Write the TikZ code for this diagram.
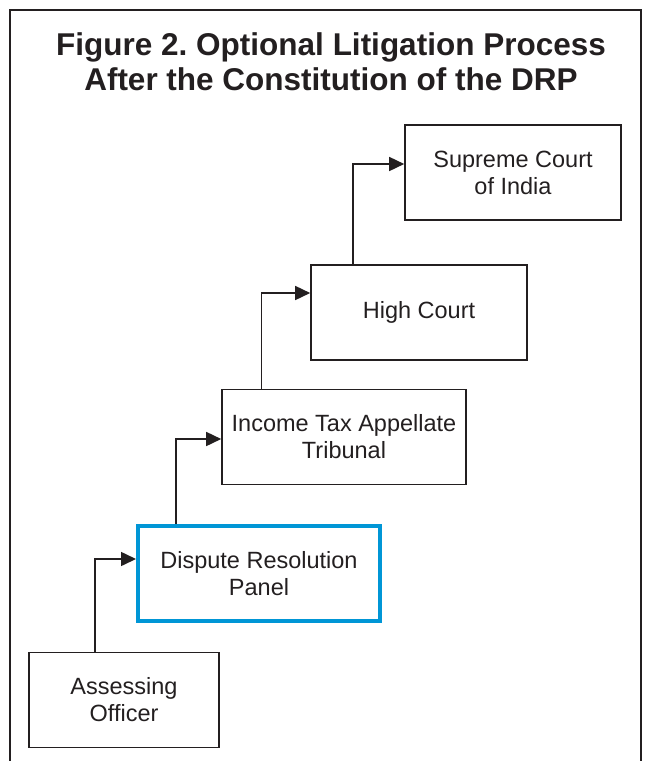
\documentclass[tikz,border=0pt]{standalone}
\usepackage{fontspec}
\setmainfont{Liberation Sans}
\usetikzlibrary{arrows.meta}
\definecolor{drpblue}{RGB}{0,150,214}
\definecolor{ink}{RGB}{35,31,32}
\tikzset{
  box/.style={draw=ink, line width=1.6pt, minimum width=#1, minimum height=95pt, inner sep=0pt, align=center, font=\fontsize{23.5}{27}\selectfont, text=ink},
  box/.default=190pt,
  conn/.style={draw=ink, line width=1.6pt, -{Triangle[length=15pt,width=14pt]}},
}
\begin{document}
\frenchspacing
\begin{tikzpicture}[x=1pt,y=-1pt]
\useasboundingbox (0,0) rectangle (651,761);
\draw[ink, line width=1.4pt] (10,761) -- (10,10) -- (641,10) -- (641,761);
\node[font=\fontsize{31.5}{35}\selectfont\bfseries, text=ink, align=center] (title) at (331,62)
  {Figure 2. Optional Litigation Process\\After the Constitution of the DRP};
\node[box=216pt] (sc) at (513,172.5) {Supreme Court\\of India};
\node[box=216pt] (hc) at (419,312.5) {High Court};
\node[box=244pt] (itat) at (344,437) {Income Tax Appellate\\Tribunal};
\node[box=242pt, draw=drpblue, line width=4pt] (drp) at (259,573.5) {Dispute Resolution\\Panel};
\node[box=190pt] (ao) at (124,700) {Assessing\\Officer};
\draw[conn] (ao.north -| 95,0) |- (drp.west |- 0,559);
\draw[conn] (drp.north -| 176,0) |- (itat.west |- 0,439);
\draw[conn] (itat.north -| 261.5,0) |- (hc.west |- 0,293);
\draw[conn] (hc.north -| 353,0) |- (sc.west |- 0,164);
\end{tikzpicture}
\end{document}
